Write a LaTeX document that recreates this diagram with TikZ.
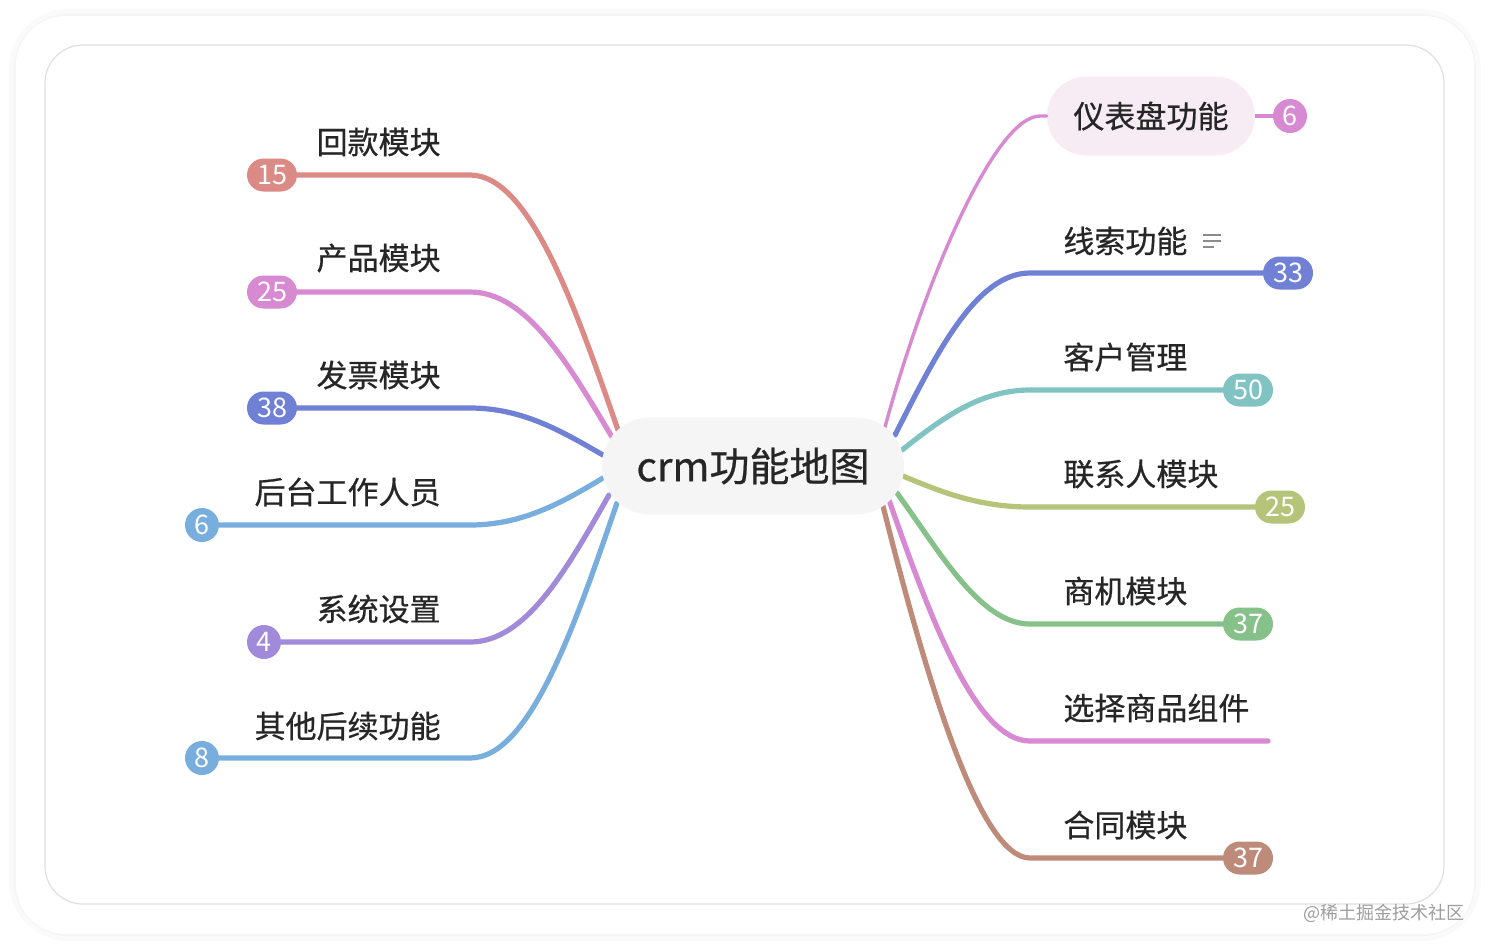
\documentclass[tikz,border=0pt]{standalone}
\usepackage{fontspec}
\setmainfont{Noto Sans CJK SC}
\newfontfamily\labfont{Noto Sans CJK SC}[FakeBold=0.6]
\usepackage{tikz}

\definecolor{ink}{HTML}{262626}
\definecolor{cred}{HTML}{DB8A85}
\definecolor{cpink}{HTML}{D789D2}
\definecolor{cblue}{HTML}{6F80D5}
\definecolor{csky}{HTML}{78AEDD}
\definecolor{cviolet}{HTML}{A08AD9}
\definecolor{cteal}{HTML}{80C3C2}
\definecolor{colive}{HTML}{B5C479}
\definecolor{cgreen}{HTML}{86C18A}
\definecolor{cbrown}{HTML}{BE8B7B}
\definecolor{rootfill}{HTML}{F5F5F5}
\definecolor{dashfill}{HTML}{F7EBF4}

\begin{document}
\begin{tikzpicture}[x=0.5pt,y=-0.5pt,
	lab/.style={inner sep=0pt, text=ink, font=\labfont\fontsize{15.5}{18}\selectfont},
	cnt/.style={inner sep=0pt, text=white, minimum height=16.5pt, minimum width=25pt, rounded corners=8.25pt, font=\fontsize{13.5}{15}\selectfont},
	cntone/.style={circle, inner sep=0pt, text=white, minimum size=17pt, font=\fontsize{13.5}{15}\selectfont},
	branch/.style={line width=2.6pt, line cap=round}]
	\useasboundingbox (0,0) rectangle (1490,950);
	%%%card
	\fill[white] (0,0) rectangle (1490,950);
	\draw[black!2, line width=6pt, rounded corners=27pt] (15,15) rectangle (1475,935);
	\draw[black!4, line width=2pt, rounded corners=26pt] (16,16) rectangle (1474,934);
	\fill[white, rounded corners=25pt] (16,16) rectangle (1474,934);
	\draw[black!12, line width=0.6pt, rounded corners=19pt] (45,45) rectangle (1444,904);
	%%%nodes
	%left
	\node[lab, anchor=east] at (441,142) (L1){回款模块};
	\node[lab, anchor=east] at (441,258) (L2){产品模块};
	\node[lab, anchor=east] at (441,375) (L3){发票模块};
	\node[lab, anchor=east] at (441,492) (L4){后台工作人员};
	\node[lab, anchor=east] at (441,609) (L5){系统设置};
	\node[lab, anchor=east] at (441,726) (L6){其他后续功能};
	\node[cnt, fill=cred] at (272,175) (nL1){15};
	\node[cnt, fill=cpink] at (272,292) (nL2){25};
	\node[cnt, fill=cblue] at (272,408) (nL3){38};
	\node[cntone, fill=csky] at (202,525) (nL4){6};
	\node[cntone, fill=cviolet] at (264,642) (nL5){4};
	\node[cntone, fill=csky] at (202,758) (nL6){8};
	%right
	\node[lab, fill=dashfill, rounded corners=19.75pt, minimum width=104pt, minimum height=39.5pt] at (1151,116) (R1){仪表盘功能};
	\node[lab, anchor=west] at (1063,241) (R2){线索功能};
	\node[lab, anchor=west] at (1063,357) (R3){客户管理};
	\node[lab, anchor=west] at (1063,474) (R4){联系人模块};
	\node[lab, anchor=west] at (1063,591) (R5){商机模块};
	\node[lab, anchor=west] at (1063,708) (R6){选择商品组件};
	\node[lab, anchor=west] at (1063,825) (R7){合同模块};
	\node[cntone, fill=cpink] at (1290,116) (nR1){6};
	\node[cnt, fill=cblue] at (1288,273) (nR2){33};
	\node[cnt, fill=cteal] at (1248,390) (nR3){50};
	\node[cnt, fill=colive] at (1280,507) (nR4){25};
	\node[cnt, fill=cgreen] at (1248,624) (nR5){37};
	\node[cnt, fill=cbrown] at (1248,858) (nR7){37};
	\coordinate (tR6) at (1268,741);
	%note icon
	\draw[black!45, line width=0.8pt] (1203,235) -- (1221,235) (1203,241) -- (1221,241) (1203,247) -- (1214,247);
	%%%links
	%ends on the root
	\coordinate (eL1) at (618,430); \coordinate (bL1) at (470,175);
	\coordinate (eL2) at (612,437); \coordinate (bL2) at (470,292);
	\coordinate (eL3) at (603,455); \coordinate (bL3) at (470,408);
	\coordinate (eL4) at (603,478); \coordinate (bL4) at (470,525);
	\coordinate (eL5) at (609,495); \coordinate (bL5) at (470,642);
	\coordinate (eL6) at (617,503); \coordinate (bL6) at (470,758);
	\coordinate (eR1) at (885,427); \coordinate (bR1) at (1040,116);
	\coordinate (eR2) at (895,435); \coordinate (bR2) at (1030,273);
	\coordinate (eR3) at (902,450); \coordinate (bR3) at (1030,390);
	\coordinate (eR4) at (903,476); \coordinate (bR4) at (1030,507);
	\coordinate (eR5) at (897,493); \coordinate (bR5) at (1030,624);
	\coordinate (eR6) at (889,500); \coordinate (bR6) at (1030,741);
	\coordinate (eR7) at (883,506); \coordinate (bR7) at (1030,858);
	%left branches
	\draw[branch, cred] (eL1) .. controls (574,303) and (529,175) .. (bL1) -- (nL1);
	\draw[branch, cpink] (eL2) .. controls (569,365) and (527,292) .. (bL2) -- (nL2);
	\draw[branch, cblue] (eL3) .. controls (563,432) and (523,408) .. (bL3) -- (nL3);
	\draw[branch, csky] (eL4) .. controls (563,502) and (523,525) .. (bL4) -- (nL4);
	\draw[branch, cviolet] (eL5) .. controls (567,569) and (526,642) .. (bL5) -- (nL5);
	\draw[branch, csky] (eL6) .. controls (573,631) and (529,758) .. (bL6) -- (nL6);
	%right branches
	\draw[cpink, line width=1.7pt, line cap=round] (eR1) .. controls (925,280) and (995,116) .. (bR1) -- (R1);
	\draw[cpink, line width=1.7pt] (R1) -- (nR1);
	\draw[branch, cblue] (eR2) .. controls (936,354) and (976,273) .. (bR2) -- (nR2);
	\draw[branch, cteal] (eR3) .. controls (940,420) and (979,390) .. (bR3) -- (nR3);
	\draw[branch, colive] (eR4) .. controls (941,492) and (979,507) .. (bR4) -- (nR4);
	\draw[branch, cgreen] (eR5) .. controls (940,552) and (980,624) .. (bR5) -- (nR5);
	\draw[branch, cpink] (eR6) .. controls (931,620) and (976,741) .. (bR6) -- (tR6);
	\draw[branch, cbrown] (eR7) .. controls (927,682) and (980,858) .. (bR7) -- (nR7);
	%root on top
	\node[fill=rootfill, rounded corners=24pt, minimum width=151pt, minimum height=48.5pt, inner sep=0pt, text=ink, font=\labfont\fontsize{20}{24}\selectfont] at (753,466) (root){crm功能地图};
	%watermark
	\node[inner sep=0pt, text=black!38, font=\fontsize{9}{10}\selectfont] at (1384,913) (wm){@稀土掘金技术社区};
\end{tikzpicture}
\end{document}
